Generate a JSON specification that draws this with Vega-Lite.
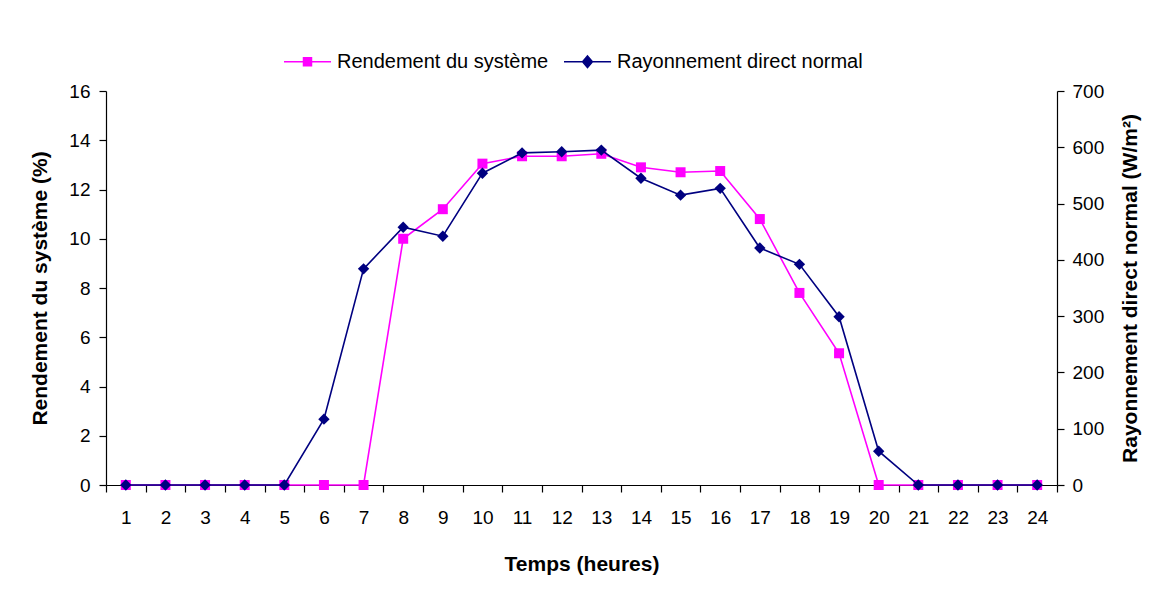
{
  "$schema": "https://vega.github.io/schema/vega-lite/v6.json",
  "autosize": "none",
  "width": 951,
  "height": 394,
  "padding": {"left": 106, "top": 91, "right": 101, "bottom": 104},
  "background": "white",
  "config": {
    "view": {"stroke": null},
    "font": "Liberation Sans",
    "axis": {"domainColor": "black", "tickColor": "black", "labelColor": "black", "titleColor": "black", "grid": false, "labelFont": "Liberation Sans", "titleFont": "Liberation Sans", "labelFontSize": 19, "titleFontSize": 21, "titleFontWeight": "bold", "tickSize": 7, "domainWidth": 1.2, "tickWidth": 1.2}
  },
  "data": {"values": [
    {"h": 1, "r": 0, "d": 0},
    {"h": 2, "r": 0, "d": 0},
    {"h": 3, "r": 0, "d": 0},
    {"h": 4, "r": 0, "d": 0},
    {"h": 5, "r": 0, "d": 0},
    {"h": 6, "r": 0, "d": 117},
    {"h": 7, "r": 0, "d": 384},
    {"h": 8, "r": 10.0, "d": 458},
    {"h": 9, "r": 11.2, "d": 442},
    {"h": 10, "r": 13.05, "d": 554},
    {"h": 11, "r": 13.35, "d": 590},
    {"h": 12, "r": 13.35, "d": 592},
    {"h": 13, "r": 13.45, "d": 595},
    {"h": 14, "r": 12.9, "d": 545},
    {"h": 15, "r": 12.7, "d": 515},
    {"h": 16, "r": 12.75, "d": 527},
    {"h": 17, "r": 10.8, "d": 421},
    {"h": 18, "r": 7.8, "d": 392},
    {"h": 19, "r": 5.35, "d": 299},
    {"h": 20, "r": 0, "d": 60},
    {"h": 21, "r": 0, "d": 0},
    {"h": 22, "r": 0, "d": 0},
    {"h": 23, "r": 0, "d": 0},
    {"h": 24, "r": 0, "d": 0}
  ]},
  "encoding": {
    "x": {
      "field": "h", "type": "ordinal", "bandPosition": 0.5,
      "scale": {"type": "band", "paddingInner": 0, "paddingOuter": 0},
      "axis": {"title": "Temps (heures)", "labelAngle": 0, "tickBand": "extent", "labelPadding": 16, "titlePadding": 26}
    }
  },
  "layer": [
    {
      "encoding": {
        "y": {"field": "r", "type": "quantitative", "scale": {"domain": [0, 16], "nice": false}, "axis": {"title": "Rendement du système (%)", "values": [0, 2, 4, 6, 8, 10, 12, 14, 16], "labelPadding": 9, "titlePadding": 18}},
        "color": {"datum": "Rendement du système", "type": "nominal",
          "scale": {"domain": ["Rendement du système", "Rayonnement direct normal"], "range": ["#FF00FF", "#000080"]},
          "legend": {
            "title": null, "orient": "none", "direction": "horizontal", "legendX": 177, "legendY": -54,
            "labelFontSize": 20, "labelColor": "black", "labelFont": "Liberation Sans", "labelOffset": 5, "columnPadding": 12, "labelLimit": 0,
            "symbolSize": 2209, "symbolStrokeWidth": 1.5,
            "encode": {"symbols": {"update": {
              "shape": {"signal": "datum.value === 'Rendement du système' ? 'M-1,0H1M-0.17,-0.17H0.17V0.17H-0.17Z' : 'M-1,0H1M0,-0.25L0.21,0L0,0.25L-0.21,0Z'"},
              "stroke": {"scale": "color", "field": "value"},
              "fill": {"scale": "color", "field": "value"},
              "strokeWidth": {"value": 1.5}
            }}}
          }
        }
      },
      "layer": [
        {"mark": {"type": "line", "strokeWidth": 1.6}},
        {"mark": {"type": "point", "shape": "square", "filled": true, "size": 100, "opacity": 1}}
      ]
    },
    {
      "encoding": {
        "y": {"field": "d", "type": "quantitative", "scale": {"domain": [0, 700], "nice": false}, "axis": {"orient": "right", "title": "Rayonnement direct normal (W/m²)", "titleAngle": 270, "titleBaseline": "top", "values": [0, 100, 200, 300, 400, 500, 600, 700], "labelPadding": 8, "titlePadding": 16}},
        "color": {"datum": "Rayonnement direct normal", "type": "nominal"}
      },
      "layer": [
        {"mark": {"type": "line", "strokeWidth": 1.6}},
        {"mark": {"type": "point", "shape": "diamond", "filled": true, "size": 130, "opacity": 1}}
      ]
    }
  ],
  "resolve": {"scale": {"y": "independent"}}
}
